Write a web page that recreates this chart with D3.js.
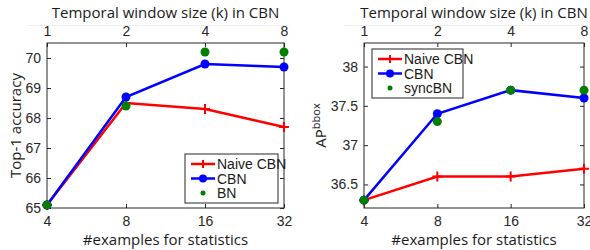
<!DOCTYPE html>
<html lang="en">
<head>
<meta charset="UTF-8">
<title>CBN charts</title>
<script src="https://cdn.jsdelivr.net/npm/d3@7"></script>
<style>
  body { margin: 0; background: white; }
  svg { display: block; }
  .tick text { font-family: "Liberation Sans", Arial, sans-serif; font-size: 14px; fill: #262626; }
  .ttl { font-family: "Open Sans", sans-serif; fill: #1a1a1a; }
</style>
</head>
<body>
<svg id="chart" width="590" height="250"></svg>
<script>
// shared x categories
const examples = [4, 8, 16, 32];
const windowSizes = [1, 2, 4, 8];

// left panel: Top-1 accuracy
const accNaive = [65.1, 68.5, 68.3, 67.7];
const accCBN = [65.1, 68.7, 69.8, 69.7];
const accBN = [65.1, 68.4, 70.2, 70.2];
const accTicks = [65, 66, 67, 68, 69, 70];

// right panel: AP bbox
const apNaive = [36.3, 36.6, 36.6, 36.7];
const apCBN = [36.3, 37.4, 37.7, 37.6];
const apSync = [36.3, 37.3, 37.7, 37.7];
const apTicks = [36.5, 37, 37.5, 38];

const svg = d3.select("#chart");

function panel(opt) {
  const g = svg.append("g");
  const x = d3.scaleLog().base(2).domain([4, 32]).range([opt.left, opt.right]);
  const xTop = d3.scaleLog().base(2).domain([1, 8]).range([opt.left, opt.right]);
  const y = d3.scaleLinear().domain(opt.yDomain).range([opt.bottom, opt.top]);

  // faint line above top axis
  g.append("line").attr("x1", opt.left - 20).attr("x2", opt.right + 5)
    .attr("y1", 25.5).attr("y2", 25.5).attr("stroke", "#eeeeee");

  // frame
  g.append("rect").attr("x", opt.left).attr("y", opt.top)
    .attr("width", opt.right - opt.left).attr("height", opt.bottom - opt.top)
    .attr("fill", "white").attr("stroke", "#262626").attr("stroke-width", 1);

  const fmtX = d3.format("d");
  g.append("g").attr("transform", `translate(0,${opt.bottom})`)
    .call(d3.axisBottom(x).tickValues(examples).tickFormat(fmtX).tickSizeInner(-4).tickSizeOuter(0).tickPadding(8))
    .call(a => a.select(".domain").remove());
  g.append("g").attr("transform", `translate(0,${opt.top})`)
    .call(d3.axisTop(xTop).tickValues(windowSizes).tickFormat(fmtX).tickSizeInner(-4).tickSizeOuter(0).tickPadding(7))
    .call(a => a.select(".domain").remove());
  g.append("g").attr("transform", `translate(${opt.left},0)`)
    .call(d3.axisLeft(y).tickValues(opt.yTicks).tickFormat(d3.format("")).tickSizeInner(-4).tickSizeOuter(0).tickPadding(6))
    .call(a => a.select(".domain").remove());
  g.append("g").attr("transform", `translate(${opt.right},0)`)
    .call(d3.axisRight(y).tickValues(opt.yTicks).tickFormat("").tickSizeInner(-4).tickSizeOuter(0))
    .call(a => a.select(".domain").remove());
  g.selectAll(".tick line").attr("stroke", "#262626");

  const line = d3.line().x((d, i) => x(examples[i])).y(d => y(d));

  // naive CBN (red, plus markers)
  g.append("path").datum(opt.naive).attr("d", line)
    .attr("fill", "none").attr("stroke", "#ff0000").attr("stroke-width", 2.5);
  g.selectAll(".plus").data(opt.naive).enter().append("path")
    .attr("d", (d, i) => `M${x(examples[i]) - 5},${y(d)}h10M${x(examples[i])},${y(d) - 5}v10`)
    .attr("stroke", "#ff0000").attr("stroke-width", 2);

  // CBN (blue, filled circles)
  g.append("path").datum(opt.cbn).attr("d", line)
    .attr("fill", "none").attr("stroke", "#0000ff").attr("stroke-width", 2.5);
  g.selectAll(".dot").data(opt.cbn).enter().append("circle")
    .attr("cx", (d, i) => x(examples[i])).attr("cy", d => y(d)).attr("r", 4.5)
    .attr("fill", "#0000ff");

  // BN / syncBN (green dots)
  g.selectAll(".gdot").data(opt.bn).enter().append("circle")
    .attr("cx", (d, i) => x(examples[i])).attr("cy", d => y(d)).attr("r", 4.5)
    .attr("fill", "#007f00");

  // titles
  g.append("text").attr("class", "ttl").attr("x", (opt.left + opt.right) / 2).attr("y", 18)
    .attr("text-anchor", "middle").attr("font-size", 15).text("Temporal window size (k) in CBN");
  g.append("text").attr("class", "ttl").attr("x", (opt.left + opt.right) / 2).attr("y", 245)
    .attr("text-anchor", "middle").attr("font-family", "Liberation Sans, Arial, sans-serif")
    .attr("font-size", 15).text("#examples for statistics");
  const yl = g.append("text").attr("class", "ttl")
    .attr("transform", `translate(${opt.yLabelX},${(opt.top + opt.bottom) / 2}) rotate(-90)`)
    .attr("text-anchor", "middle").attr("font-family", "Liberation Sans, Arial, sans-serif")
    .attr("font-size", 15);
  yl.append("tspan").text(opt.yLabel);
  if (opt.yLabelSup) yl.append("tspan").attr("font-size", 11).attr("dy", -6).text(opt.yLabelSup);

  // legend
  const L = opt.legend;
  g.append("rect").attr("x", L.x).attr("y", L.y).attr("width", L.w).attr("height", L.h)
    .attr("fill", "white").attr("stroke", "#262626").attr("stroke-width", 1);
  const rows = [
    { name: "Naive CBN", kind: "plus", color: "#ff0000" },
    { name: "CBN", kind: "circ", color: "#0000ff" },
    { name: opt.bnName, kind: "dot", color: "#007f00" }
  ];
  rows.forEach((r, i) => {
    const cy = L.y + 10 + i * 14.5;
    const x0 = L.x + 6, x1 = L.x + 30, xm = (x0 + x1) / 2;
    if (r.kind !== "dot") {
      g.append("line").attr("x1", x0).attr("x2", x1).attr("y1", cy).attr("y2", cy)
        .attr("stroke", r.color).attr("stroke-width", 2.5);
    }
    if (r.kind === "plus") {
      g.append("path").attr("d", `M${xm - 4},${cy}h8M${xm},${cy - 4}v8`)
        .attr("stroke", r.color).attr("stroke-width", 2);
    } else {
      g.append("circle").attr("cx", xm).attr("cy", cy).attr("r", r.kind === "dot" ? 2.5 : 4)
        .attr("fill", r.color);
    }
    g.append("text").attr("x", x1 + 2).attr("y", cy + 5)
      .attr("font-family", "Liberation Sans, Arial, sans-serif").attr("font-size", 14)
      .attr("fill", "#1a1a1a").text(r.name);
  });
}

panel({
  left: 47, right: 284, top: 43, bottom: 208,
  yDomain: [65, 70.5], yTicks: accTicks,
  naive: accNaive, cbn: accCBN, bn: accBN,
  yLabel: "Top-1 accuracy", yLabelX: 21, bnName: "BN",
  legend: { x: 185, y: 154, w: 93, h: 49 }
});
panel({
  left: 364, right: 584, top: 43, bottom: 208,
  yDomain: [36.2, 38.3], yTicks: apTicks,
  naive: apNaive, cbn: apCBN, bn: apSync,
  yLabel: "AP", yLabelSup: "bbox", yLabelX: 326, bnName: "syncBN",
  legend: { x: 372, y: 49, w: 91, h: 49 }
});
</script>
</body>
</html>
